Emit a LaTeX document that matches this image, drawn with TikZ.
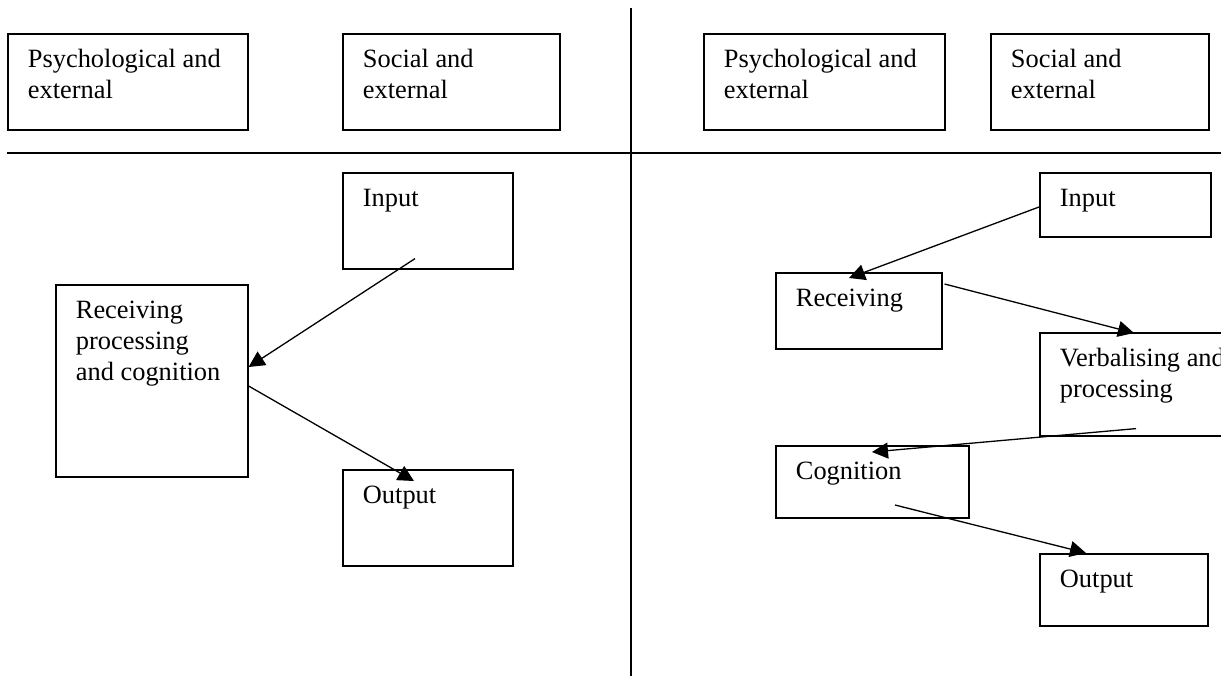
\documentclass[tikz,border=0pt]{standalone}
\usepackage{fontspec}
\setmainfont{Liberation Serif}
\usetikzlibrary{calc,arrows.meta}
\begin{document}
\begin{tikzpicture}[x=0.5pt,y=-0.5pt,
  box/.style={draw=black,line width=0.8pt,rectangle,inner sep=0pt,anchor=north west},
  lbl/.style={inner sep=0pt,anchor=north west,align=left,font=\fontsize{13.2pt}{15.3pt}\selectfont},
  rule/.style={line width=0.8pt},
  conn/.style={line width=0.65pt,-{Triangle[length=8pt,width=8pt]}}]
\useasboundingbox (0,0) rectangle (1221,676);
\clip (0,0) rectangle (1221,676);
% dividing lines
\coordinate (vtop) at (631,8);
\coordinate (vbot) at (631,676);
\coordinate (hl) at (7,153);
\coordinate (hr) at (1221,153);
\draw[rule] (vtop) -- (vbot);
\draw[rule] (hl) -- (hr);
% top boxes
\node[box,minimum width=120pt,minimum height=48pt] (Lpsy) at (7,33) {};
\node[box,minimum width=108.5pt,minimum height=48pt] (Lsoc) at (342,33) {};
\node[box,minimum width=120.5pt,minimum height=48pt] (Rpsy) at (703,33) {};
\node[box,minimum width=109pt,minimum height=48pt] (Rsoc) at (990,33) {};
\node[lbl] (tLpsy) at ($(Lpsy.north west)+(20.5,16)$) {Psychological and\\external};
\node[lbl] (tLsoc) at ($(Lsoc.north west)+(20.5,16)$) {Social and\\external};
\node[lbl] (tRpsy) at ($(Rpsy.north west)+(20.5,16)$) {Psychological and\\external};
\node[lbl] (tRsoc) at ($(Rsoc.north west)+(20.5,16)$) {Social and\\external};
% left diagram
\node[box,minimum width=85pt,minimum height=48pt] (Lin) at (342,172) {};
\node[box,minimum width=96pt,minimum height=96pt] (Lrec) at (55,284) {};
\node[box,minimum width=85pt,minimum height=48pt] (Lout) at (342,469) {};
\node[lbl] (tLin) at ($(Lin.north west)+(20.5,17)$) {Input};
\node[lbl] (tLrec) at ($(Lrec.north west)+(20.5,17)$) {Receiving\\processing\\and cognition};
\node[lbl] (tLout) at ($(Lout.north west)+(20.5,17)$) {Output};
\draw[conn] ($(Lin.south west)+(73,-11)$) -- ($(Lrec.north east)+(0,83)$);
\draw[conn] ($(Lrec.north east)+(0,102)$) -- ($(Lout.north west)+(72,12)$);
% right diagram
\node[box,minimum width=85.5pt,minimum height=32pt] (Rin) at (1039,172) {};
\node[box,minimum width=83pt,minimum height=38pt] (Rrec) at (775,272) {};
\node[box,minimum width=115pt,minimum height=51.5pt] (Rverb) at (1039,332) {};
\node[box,minimum width=96.5pt,minimum height=36pt] (Rcog) at (775,445) {};
\node[box,minimum width=84pt,minimum height=36pt] (Rout) at (1039,553) {};
\node[lbl] (tRin) at ($(Rin.north west)+(20.5,17)$) {Input};
\node[lbl] (tRrec) at ($(Rrec.north west)+(20.5,17)$) {Receiving};
\node[lbl] (tRverb) at ($(Rverb.north west)+(20.5,16)$) {Verbalising and\\processing};
\node[lbl] (tRcog) at ($(Rcog.north west)+(20.5,17)$) {Cognition};
\node[lbl] (tRout) at ($(Rout.north west)+(20.5,17)$) {Output};
\draw[conn] ($(Rin.north west)+(0,35)$) -- ($(Rrec.north west)+(74,6)$);
\draw[conn] ($(Rrec.north east)+(2,12)$) -- ($(Rverb.north west)+(95,1)$);
\draw[conn] ($(Rverb.south west)+(97,-8)$) -- ($(Rcog.north west)+(97,7)$);
\draw[conn] ($(Rcog.north west)+(120,60)$) -- ($(Rout.north west)+(47,0)$);
\end{tikzpicture}
\end{document}
